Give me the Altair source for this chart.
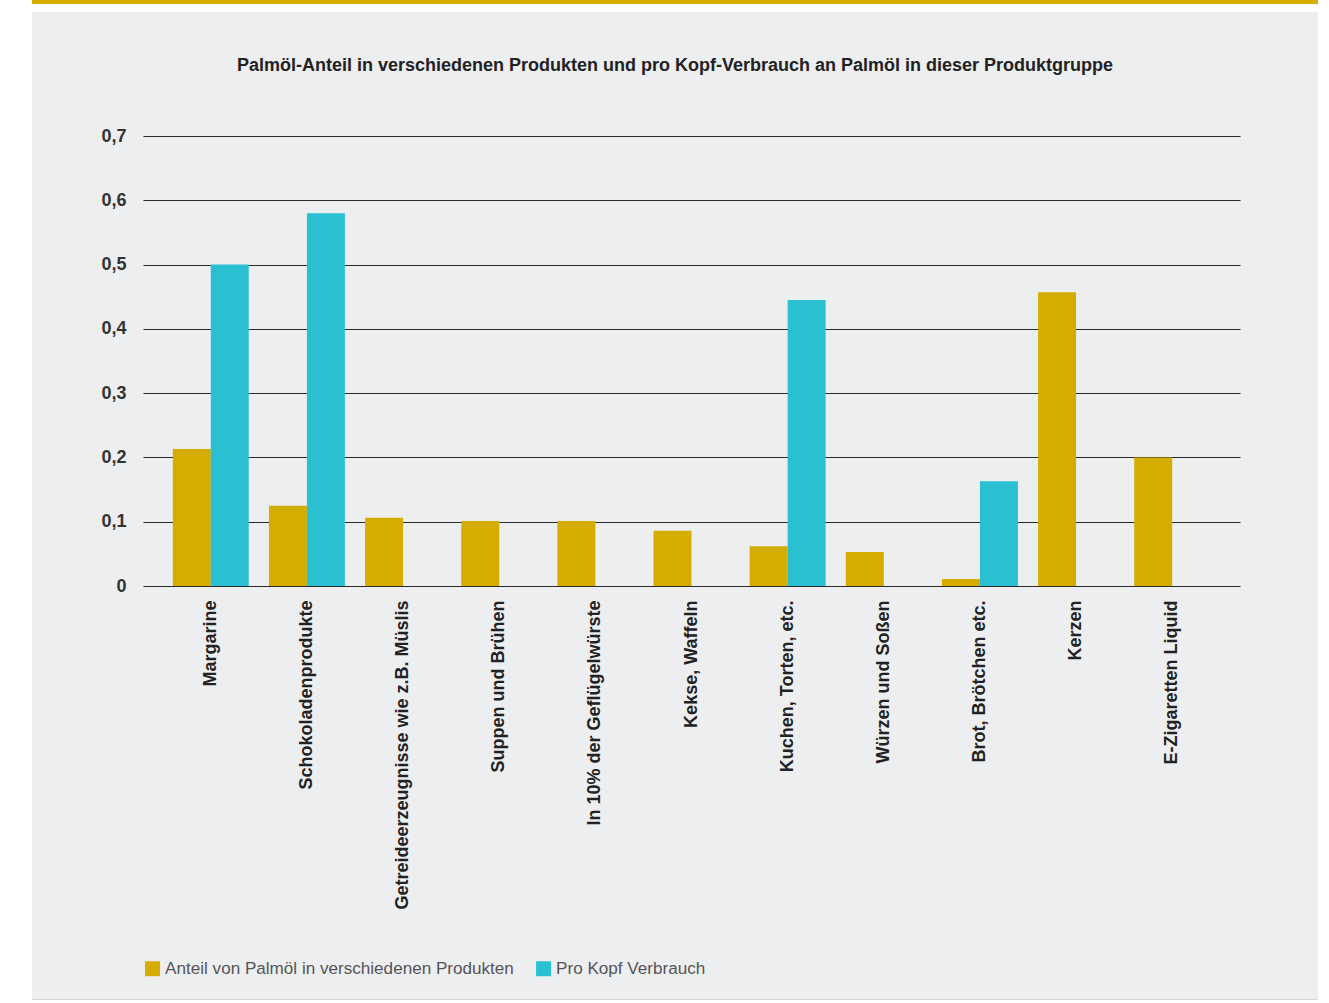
import altair as alt
import pandas as pd

categories = ["Margarine", "Schokoladenprodukte", "Getreideerzeugnisse wie z.B. Müslis",
              "Suppen und Brühen", "In 10% der Geflügelwürste", "Kekse, Waffeln",
              "Kuchen, Torten, etc.", "Würzen und Soßen", "Brot, Brötchen etc.",
              "Kerzen", "E-Zigaretten Liquid"]
anteil = [0.213, 0.125, 0.106, 0.101, 0.101, 0.086, 0.062, 0.053, 0.011, 0.457, 0.2]
prokopf = [0.5, 0.58, None, None, None, None, 0.445, None, 0.163, None, None]
series = ["Anteil von Palmöl in verschiedenen Produkten", "Pro Kopf Verbrauch"]
colors = ["#d4ad00", "#2bc0d1"]
yticks = [0, 0.1, 0.2, 0.3, 0.4, 0.5, 0.6, 0.7]
title = "Palmöl-Anteil in verschiedenen Produkten und pro Kopf-Verbrauch an Palmöl in dieser Produktgruppe"

rows = []
for c, a, p in zip(categories, anteil, prokopf):
    rows.append({"cat": c, "series": series[0], "value": a})
    if p is not None:
        rows.append({"cat": c, "series": series[1], "value": p})
df = pd.DataFrame(rows)

W, H = 1097, 450
FONT = "Liberation Sans"

one = pd.DataFrame({"k": [0]})

def deco(x, x2, y, y2, color):
    return alt.Chart(one).mark_rect(color=color).encode(
        x=alt.value(x), x2=alt.value(x2), y=alt.value(y), y2=alt.value(y2))

# white margins around the grey panel and the gold top stripe
white = "#ffffff"
decos = [
    deco(-143, -111, -136, 867, white),
    deco(1175, 1186, -136, 867, white),
    deco(-143, 1186, -136, -124, white),
    deco(-143, 1186, 863, 867, white),
    deco(-111, 1175, 863, 864, "#d6d7d9"),
    deco(-111, 1175, -136, -132, "#d4ad00"),
]

title_mark = alt.Chart(pd.DataFrame({"t": [title]})).mark_text(
    font=FONT, fontSize=18, fontWeight="bold", color="#222",
    align="center", baseline="middle").encode(
    text="t:N", x=alt.value(532), y=alt.value(-70))

bars = alt.Chart(df).mark_bar().encode(
    x=alt.X("cat:N", sort=categories,
            scale=alt.Scale(paddingInner=0.21, paddingOuter=0.31),
            axis=alt.Axis(title=None, labelAngle=-90, labelPadding=14, domain=False,
                          ticks=False, grid=False, labelLimit=400, labelFontSize=18,
                          labelFontWeight="bold", labelColor="#222", labelFont=FONT)),
    xOffset=alt.XOffset("series:N", sort=series),
    y=alt.Y("value:Q", scale=alt.Scale(domain=[0, 0.7], nice=False),
            axis=alt.Axis(title=None, values=yticks, domain=False, ticks=False,
                          labelPadding=17, labelFontSize=18, labelFontWeight="bold",
                          labelColor="#333", labelFont=FONT,
                          labelExpr="datum.value == 0 ? '0' : replace(format(datum.value, '.1f'), '.', ',')",
                          gridColor="#2a2a2a", gridWidth=1, gridOpacity=1)),
    color=alt.Color("series:N", sort=series,
                    scale=alt.Scale(domain=series, range=colors),
                    legend=alt.Legend(title=None, orient="none", legendX=1, legendY=824,
                                      direction="horizontal", symbolType="square",
                                      symbolSize=225, symbolStrokeWidth=0, symbolOpacity=1,
                                      labelFontSize=17.1, labelFont=FONT, labelColor="#555",
                                      labelLimit=600, labelOffset=4, columnPadding=21)),
)

chart = alt.layer(*decos, title_mark, bars).properties(
    width=W, height=H,
    autosize=alt.AutoSizeParams(type="none"),
    padding={"left": 143, "top": 136, "right": 89, "bottom": 417},
    background="#edeef0",
).configure_view(stroke=None)

chart.save("out.html", embed_options={"renderer": "svg", "actions": False})
